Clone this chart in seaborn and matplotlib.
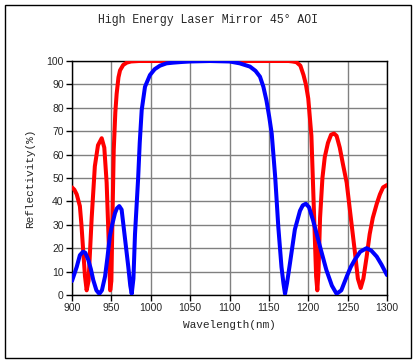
import matplotlib
matplotlib.use("Agg")
import matplotlib.pyplot as plt
import seaborn as sns
import pandas as pd
from matplotlib.patches import Rectangle

# Red curve
red_wl = [900, 903, 906, 910, 912, 914, 916.5, 918.6, 921, 925, 929, 933, 937.7, 941, 944, 947, 948.5,
          950, 951.5, 953, 955, 956.7, 959, 961, 965, 969.5, 975, 985, 1000, 1050, 1100, 1150,
          1175, 1180, 1185, 1190, 1194, 1197, 1200, 1202, 1204, 1206, 1208, 1210, 1211.5, 1213,
          1215, 1218, 1221, 1225, 1229, 1232.7, 1236, 1240, 1244, 1248.8, 1253, 1259, 1263, 1266.6,
          1270, 1274, 1278, 1282, 1287, 1291, 1295, 1300]
red_r = [46, 45, 43, 38, 30, 20, 8, 2, 6, 33, 55, 64, 67, 63, 48, 19, 2,
         6, 35, 62, 78, 86, 93, 96, 98.3, 99.3, 99.8, 100, 100, 100, 100, 100,
         100, 99.8, 99.5, 98, 94, 90, 84, 76, 68, 48, 28, 8, 2, 10,
         33, 50, 59, 65, 68.5, 69, 68, 63, 56, 48, 36, 19, 7, 3,
         7, 16, 26, 33, 39, 43, 46, 47]

# Blue curve
blue_wl = [900, 903, 906, 910, 914, 917, 920.7, 924, 927, 931, 934.7, 938, 942, 945, 948, 951,
           954.6, 957, 960, 963, 967, 971.5, 974, 975.8, 978, 980, 982, 984, 986, 988.5, 992.7,
           999, 1005, 1011.7, 1020, 1028.6, 1040, 1050, 1075, 1100, 1113, 1126, 1133, 1138.7,
           1143, 1147, 1150.5, 1153.6, 1158, 1162, 1166, 1168.5, 1170.5, 1173, 1176.8, 1183,
           1189.5, 1193, 1197, 1201, 1206, 1210, 1215, 1223, 1230, 1236, 1242, 1249, 1254, 1259,
           1266, 1274, 1280, 1287, 1293, 1300]
blue_r = [6, 9, 12, 17, 18.5, 18, 15, 11, 6.4, 2, 0.5, 2, 8, 16, 25, 30,
          35, 37, 38, 36.5, 25, 12, 4, 0.5, 7, 26, 38, 50, 65, 79, 89,
          94, 96.5, 98, 99, 99.3, 99.6, 99.8, 100, 99.8, 99, 97.6, 95.8, 93.3,
          89, 83, 76, 69, 50.5, 29, 12, 5, 0.5, 5, 13.6, 28,
          36, 38.3, 39, 37.5, 32, 27, 20.6, 10.7, 4, 0.5, 2, 8, 12, 15,
          18.5, 20, 19, 16.4, 13, 8.5]

x_ticks = [900, 950, 1000, 1050, 1100, 1150, 1200, 1250, 1300]
y_ticks = [0, 10, 20, 30, 40, 50, 60, 70, 80, 90, 100]

df = pd.concat([
    pd.DataFrame({"Wavelength": red_wl, "R": red_r, "pol": "red"}),
    pd.DataFrame({"Wavelength": blue_wl, "R": blue_r, "pol": "blue"}),
])

sns.set_style("white")
plt.rcParams["font.family"] = ["Liberation Sans", "DejaVu Sans"]

fig = plt.figure(figsize=(4.16, 3.63), dpi=100)
ax = fig.add_axes([72 / 416, 1 - 295 / 363, 315 / 416, 234 / 363])

sns.lineplot(data=df, x="Wavelength", y="R", hue="pol",
             palette={"red": "#FF0000", "blue": "#0000FF"},
             linewidth=2.9, sort=False, estimator=None, legend=False, ax=ax, zorder=3)

ax.set_xlim(900, 1300)
ax.set_ylim(0, 100)
ax.set_xticks(x_ticks)
ax.set_yticks(y_ticks)
ax.set_xticklabels([str(v) for v in x_ticks], fontsize=7.5)
ax.set_yticklabels([str(v) for v in y_ticks], fontsize=7.5)
ax.grid(True, color="#808080", linewidth=1)
ax.set_axisbelow(True)
ax.tick_params(axis="both", direction="out", length=4, width=1, color="black",
               bottom=True, left=True, pad=2)
for s in ax.spines.values():
    s.set_color("black")
    s.set_linewidth(1)

ax.set_xlabel("Wavelength(nm)", family="Liberation Mono", fontsize=8, labelpad=5)
ax.set_ylabel("Reflectivity(%)", family="Liberation Mono", fontsize=8, labelpad=8)

fig.text(208 / 416, 1 - 20 / 363, "High Energy Laser Mirror 45° AOI",
         family="Liberation Mono", fontsize=8.3, ha="center", va="center")

fig.patches.append(Rectangle((5 / 416, 5 / 363), 406 / 416, 353 / 363,
                             transform=fig.transFigure, fill=False,
                             edgecolor="black", linewidth=1))

fig.savefig("out.png", dpi=100)
